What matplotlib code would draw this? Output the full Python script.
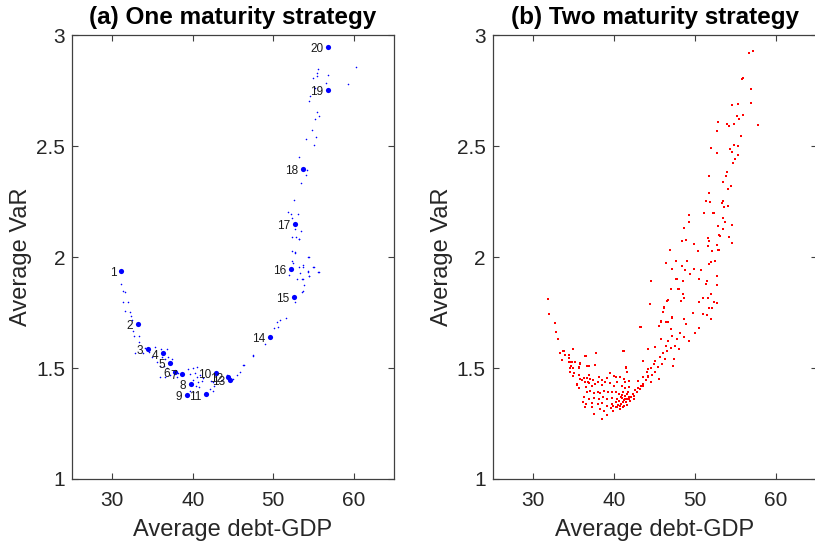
import matplotlib
matplotlib.use('Agg')
import matplotlib.pyplot as plt

plt.rcParams['font.family'] = ['Liberation Sans', 'DejaVu Sans']

# ---- (a) one maturity: the 20 labelled strategies
num_x = [31.12, 33.16, 34.44, 36.34, 37.17, 37.80, 38.70, 39.82, 39.29, 42.89,
         41.65, 44.34, 44.59, 49.56, 52.58, 52.17, 52.72, 53.70, 56.80, 56.84]
num_y = [1.937, 1.700, 1.586, 1.566, 1.524, 1.481, 1.474, 1.429, 1.380, 1.479,
         1.381, 1.458, 1.447, 1.641, 1.820, 1.946, 2.149, 2.396, 2.754, 2.947]
num_lab = [str(i) for i in range(1, 21)]

# ---- (a) one maturity: all the other points
one_x = [31.05, 31.30, 31.55, 31.37, 31.99, 31.55, 32.17, 32.33, 32.42, 32.61,
         32.74, 33.32, 33.29, 32.86, 33.78, 34.07, 34.57, 34.90, 35.31, 36.02,
         36.76, 36.14, 36.55, 36.96, 37.39, 36.43, 36.84, 35.93, 36.55, 37.17,
         38.20, 38.08, 39.45, 39.99, 40.57, 39.66, 40.28, 40.49, 40.90, 40.07,
         40.69, 41.11, 41.31, 40.40, 40.81, 39.66, 40.07, 42.23, 42.55, 42.64,
         42.14, 42.48, 43.60, 44.22, 45.04, 45.46, 45.87, 46.28, 47.52, 35.52,
         35.93,
         53.24, 52.29, 52.70, 54.35, 52.29, 52.49, 53.66, 53.24, 54.98, 55.60,
         54.32, 53.32, 54.40, 51.96, 52.99, 53.66, 53.82, 53.73, 53.57, 52.70,
         51.55, 50.84, 50.50, 50.55, 50.09, 48.98, 47.52, 46.37,
         60.24, 55.52, 55.43, 55.40, 54.98, 56.80, 56.52, 59.32, 55.19, 54.57,
         54.44, 55.47, 55.65, 55.22, 54.78, 55.31, 54.11, 55.10, 53.20, 54.16,
         54.03, 53.48, 52.61, 51.83, 52.20, 53.11, 52.33, 52.66, 53.48, 52.33,
         52.83, 53.24, 52.66, 54.40, 53.73, 55.02, 54.28, 55.65, 54.48, 53.61]
one_y = [1.878, 1.848, 1.844, 1.799, 1.799, 1.757, 1.754, 1.736, 1.716, 1.668,
         1.643, 1.645, 1.616, 1.568, 1.566, 1.589, 1.573, 1.548, 1.593, 1.586,
         1.586, 1.548, 1.541, 1.548, 1.541, 1.510, 1.500, 1.458, 1.458, 1.468,
         1.477, 1.458, 1.495, 1.501, 1.503, 1.473, 1.477, 1.458, 1.468, 1.446,
         1.436, 1.443, 1.454, 1.418, 1.413, 1.398, 1.391, 1.443, 1.436, 1.420,
         1.405, 1.398, 1.447, 1.468, 1.450, 1.468, 1.481, 1.515, 1.559, 1.526,
         1.510,
         2.081, 2.026, 2.021, 2.001, 1.981, 1.973, 1.964, 1.954, 1.956, 1.934,
         1.934, 1.928, 1.913, 1.919, 1.901, 1.901, 1.874, 1.848, 1.844, 1.799,
         1.727, 1.716, 1.709, 1.683, 1.679, 1.608, 1.555, 1.514,
         2.856, 2.847, 2.829, 2.817, 2.806, 2.821, 2.787, 2.779, 2.763, 2.727,
         2.704, 2.656, 2.636, 2.622, 2.573, 2.542, 2.532, 2.506, 2.454, 2.393,
         2.371, 2.336, 2.257, 2.204, 2.194, 2.197, 2.176, 2.126, 2.116, 2.093,
         2.093, 2.084, 2.024, 1.999, 1.958, 1.958, 1.936, 1.934, 1.913, 1.901]

# ---- (b) two maturities
two_x = [31.89, 31.98, 32.72, 32.84, 33.09, 33.34, 33.71, 33.59, 34.45, 34.91,
         34.58, 35.20, 35.82, 35.69, 36.44, 37.80, 36.69, 34.58, 34.95, 35.82,
         35.45, 36.31, 36.81, 36.56, 37.06,
         44.49, 44.37, 43.25, 41.15, 41.52, 46.10, 46.47, 46.60, 47.09, 46.97,
         47.09, 45.73, 45.73, 46.35, 46.47, 47.34, 47.22, 47.96, 47.96, 47.59,
         44.12, 44.99, 43.62, 44.86, 45.36, 44.24, 44.12, 45.48, 44.49, 43.62,
         43.25, 42.88, 42.39, 42.01, 41.64, 41.15, 40.77, 40.40, 39.91,
         33.75, 33.34, 33.96, 36.47, 41.18, 33.55, 34.45, 34.37, 34.79, 35.20,
         35.82, 34.67, 34.91, 35.61, 36.85, 37.68, 41.52, 34.49, 34.99, 35.61,
         41.60, 36.93, 39.45, 36.65, 36.03, 36.44, 37.06, 37.39, 38.09, 38.51,
         39.13, 39.94, 40.28, 40.77, 41.18, 41.39, 41.80, 35.41, 35.61, 36.85,
         37.27, 37.68, 37.96, 38.51, 38.92, 39.54, 39.94, 40.37, 40.99, 41.39,
         41.80, 36.65, 37.06, 37.47, 37.96, 38.30, 38.71, 39.20, 39.75, 40.28,
         40.56, 41.11, 41.60, 41.80, 41.39, 40.99, 40.37, 39.75, 39.13, 38.63,
         38.09, 37.47, 36.85, 36.23, 36.15, 36.56, 37.27, 37.96, 38.51, 39.13,
         39.75, 40.28, 40.77, 41.18, 36.44, 37.27, 38.30, 38.71, 37.47, 38.51,
         39.13,
         40.60, 40.90, 41.20, 41.50, 41.80, 42.10, 40.80, 41.00, 41.40, 41.70,
         42.30, 42.60, 42.90, 43.30, 43.60, 43.90, 44.20, 40.50, 41.10, 41.60,
         42.00, 42.40, 40.20, 39.90, 39.60,
         44.60, 45.10, 45.60, 46.00, 46.60, 45.00, 44.70, 45.90, 46.30, 47.50,
         47.80, 48.10, 47.00, 43.00, 43.50, 44.00, 48.60, 49.20, 48.90, 50.00,
         51.77, 51.39, 51.80, 49.20, 51.06, 52.30, 49.20, 48.67, 52.79, 52.92,
         53.08, 51.55, 51.68, 48.33, 48.92, 49.91, 52.71, 51.59, 46.93, 50.40,
         52.05, 52.88, 46.39, 47.63, 48.99, 51.96, 52.42, 51.77, 48.37, 47.13,
         48.74, 49.91, 50.72, 49.41, 52.67, 44.53, 47.75, 48.49, 50.48, 51.47,
         51.34, 52.67, 47.01, 47.92, 48.54, 51.96, 48.67, 50.94, 51.59, 46.60,
         48.21, 50.48, 52.34, 52.76, 44.41, 46.10, 51.72, 52.09, 46.02, 49.70,
         50.97, 51.43, 47.13, 48.58, 51.93, 45.82, 46.44, 43.29, 45.48, 50.53,
         57.09, 56.60, 55.86, 55.73, 56.85, 56.92, 55.24, 54.49, 55.11, 55.89,
         55.43, 52.83, 53.91, 54.24, 54.74, 57.71, 52.67, 55.64, 54.74, 55.31,
         52.01, 54.28, 54.53, 52.67, 55.31, 54.86, 54.65, 53.95, 51.68, 53.75,
         53.45, 54.37, 54.07, 53.45, 53.29, 54.07, 53.58, 52.26, 53.50, 53.66,
         54.57, 53.50, 54.16, 54.53, 52.92]
two_y = [1.811, 1.743, 1.703, 1.661, 1.631, 1.568, 1.577, 1.536, 1.559, 1.586,
         1.527, 1.527, 1.523, 1.505, 1.554, 1.568, 1.509, 1.500, 1.464, 1.450,
         1.423, 1.455, 1.437, 1.414, 1.450,
         1.892, 1.788, 1.685, 1.577, 1.505, 1.775, 1.802, 1.707, 1.730, 1.676,
         1.644, 1.631, 1.707, 1.599, 1.577, 1.541, 1.509, 1.586, 1.856, 1.901,
         1.586, 1.595, 1.532, 1.518, 1.505, 1.495, 1.464, 1.450, 1.437, 1.419,
         1.405, 1.392, 1.374, 1.369, 1.360, 1.347, 1.329, 1.324, 1.306,
         1.575, 1.566, 1.559, 1.555, 1.578, 1.537, 1.544, 1.526, 1.526, 1.528,
         1.518, 1.510, 1.500, 1.499, 1.510, 1.514, 1.499, 1.481, 1.477, 1.470,
         1.483, 1.468, 1.477, 1.454, 1.447, 1.438, 1.450, 1.445, 1.458, 1.447,
         1.454, 1.465, 1.458, 1.461, 1.450, 1.438, 1.443, 1.428, 1.410, 1.431,
         1.420, 1.428, 1.438, 1.423, 1.436, 1.431, 1.420, 1.436, 1.420, 1.409,
         1.413, 1.391, 1.398, 1.387, 1.393, 1.387, 1.398, 1.393, 1.391, 1.393,
         1.383, 1.391, 1.383, 1.368, 1.360, 1.363, 1.360, 1.363, 1.360, 1.368,
         1.360, 1.363, 1.360, 1.368, 1.345, 1.338, 1.342, 1.338, 1.342, 1.330,
         1.338, 1.323, 1.315, 1.330, 1.323, 1.323, 1.315, 1.308, 1.293, 1.270,
         1.288,
         1.350, 1.340, 1.355, 1.345, 1.360, 1.370, 1.370, 1.380, 1.375, 1.390,
         1.385, 1.400, 1.410, 1.420, 1.430, 1.445, 1.460, 1.335, 1.325, 1.335,
         1.350, 1.360, 1.345, 1.330, 1.320,
         1.500, 1.530, 1.550, 1.570, 1.620, 1.480, 1.470, 1.520, 1.540, 1.600,
         1.630, 1.660, 1.590, 1.440, 1.460, 1.480, 1.640, 1.620, 1.700, 1.660,
         2.288, 2.254, 2.249, 2.191, 2.200, 2.198, 2.159, 2.131, 2.140, 2.100,
         2.095, 2.086, 2.072, 2.072, 2.077, 2.060, 2.055, 2.051, 2.032, 2.027,
         2.027, 2.032, 1.974, 1.983, 1.981, 1.979, 1.981, 1.968, 1.959, 1.946,
         1.941, 1.946, 1.941, 1.923, 1.916, 1.892, 1.900, 1.891, 1.901, 1.891,
         1.878, 1.875, 1.857, 1.857, 1.832, 1.836, 1.818, 1.815, 1.815, 1.808,
         1.803, 1.800, 1.796, 1.793, 1.787, 1.773, 1.773, 1.770, 1.754, 1.749,
         1.743, 1.740, 1.727, 1.721, 1.721, 1.712, 1.709, 1.683, 1.688, 1.682,
         2.929, 2.919, 2.808, 2.802, 2.760, 2.694, 2.691, 2.686, 2.638, 2.641,
         2.622, 2.611, 2.600, 2.593, 2.602, 2.596, 2.569, 2.546, 2.506, 2.500,
         2.491, 2.488, 2.473, 2.470, 2.459, 2.441, 2.427, 2.384, 2.365, 2.365,
         2.339, 2.321, 2.306, 2.254, 2.243, 2.231, 2.225, 2.200, 2.179, 2.159,
         2.145, 2.129, 2.090, 2.066, 2.033]

xticks = [30, 40, 50, 60]
yticks = [1, 1.5, 2, 2.5, 3]
frame = '#404040'


def style(ax, title):
    ax.set_xlim(25, 65)
    ax.set_ylim(1, 3)
    ax.set_xticks(xticks)
    ax.set_yticks(yticks)
    ax.set_yticklabels(['1', '1.5', '2', '2.5', '3'])
    ax.tick_params(direction='in', top=True, right=True, length=4, width=0.8,
                   color=frame, labelcolor='#262626', labelsize=15)
    ax.tick_params(axis='x', pad=9)
    ax.tick_params(axis='y', pad=5)
    for s in ax.spines.values():
        s.set_color(frame)
        s.set_linewidth(0.9)
    ax.set_xlabel('Average debt-GDP', fontsize=17, color='#262626', labelpad=6)
    ax.set_ylabel('Average VaR', fontsize=17, color='#262626', labelpad=3)
    ax.set_title(title, fontsize=17.5, fontweight='bold', pad=8)


fig = plt.figure(figsize=(8.15, 5.43), dpi=100)
ax1 = fig.add_axes([0.0883, 0.118, 0.3951, 0.8167])
ax2 = fig.add_axes([0.6045, 0.118, 0.3975, 0.8167])

ax1.scatter(one_x, one_y, s=1.3, c='blue', marker='o', linewidths=0)
ax1.scatter(num_x, num_y, s=14, c='blue', marker='o', linewidths=0, zorder=3)
for xx, yy, lab in zip(num_x, num_y, num_lab):
    ax1.annotate(lab, (xx, yy), xytext=(-3.5, -1.5), textcoords='offset points',
                 ha='right', va='center', fontsize=8.5, color='#1a1a1a')
style(ax1, '(a) One maturity strategy')

ax2.scatter(two_x, two_y, s=1.0, c='red', marker='s', linewidths=0)
style(ax2, '(b) Two maturity strategy')

fig.savefig('out.png', dpi=100)
